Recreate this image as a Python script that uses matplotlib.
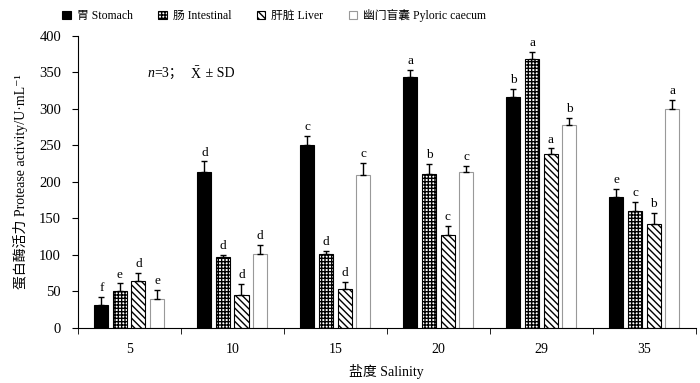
import numpy as np
import matplotlib
matplotlib.use("Agg")
import matplotlib.pyplot as plt
from matplotlib.font_manager import FontProperties

FONTS = ['Liberation Serif', 'Noto Sans CJK SC', 'DejaVu Serif']
plt.rcParams['font.family'] = FONTS
plt.rcParams['hatch.linewidth'] = 1.0
plt.rcParams['mathtext.fontset'] = 'custom'
plt.rcParams['mathtext.rm'] = 'Liberation Serif'
plt.rcParams['mathtext.it'] = 'Liberation Serif:italic'

# data
salinity = ['5', '10', '15', '20', '29', '35']
tissues = ['胃 Stomach', '肠 Intestinal', '肝脏 Liver', '幽门盲囊 Pyloric caecum']
stomach = [32, 213, 251, 344, 317, 180]
intestinal = [51, 97, 101, 211, 369, 160]
liver = [64, 45, 53, 127, 238, 143]
pyloric = [40, 101, 209, 213, 278, 300]
stomach_sd = [10, 15, 12, 10, 11, 10]
intestinal_sd = [10, 3, 4, 14, 9, 13]
liver_sd = [11, 15, 10, 13, 8, 15]
pyloric_sd = [12, 13, 17, 9, 10, 12]
stomach_sig = ['f', 'd', 'c', 'a', 'b', 'e']
intestinal_sig = ['e', 'd', 'd', 'b', 'a', 'c']
liver_sig = ['d', 'd', 'd', 'c', 'a', 'b']
pyloric_sig = ['e', 'd', 'c', 'c', 'b', 'a']

series = [
    (stomach, stomach_sd, stomach_sig, dict(color='black', edgecolor='black')),
    (intestinal, intestinal_sd, intestinal_sig, dict(color='white', edgecolor='black', hatch='+++++')),
    (liver, liver_sd, liver_sig, dict(color='white', edgecolor='black', hatch='\\\\\\\\\\')),
    (pyloric, pyloric_sd, pyloric_sig, dict(color='white', edgecolor='#999999')),
]

fig = plt.figure(figsize=(7, 3.83), dpi=100)
ax = fig.add_axes([0.111, 0.144, 0.883, 0.762])

x = np.arange(len(salinity))
step = 0.18
width = 0.136
for i, (vals, sd, sig, style) in enumerate(series):
    pos = x + (i - 1.5) * step
    ax.bar(pos, vals, width, label=tissues[i], linewidth=0.8, zorder=2, **style)
    ax.errorbar(pos, vals, yerr=[np.zeros(len(sd)), sd], fmt='none',
                ecolor='black', elinewidth=1.0, capsize=2.5, capthick=1.0, zorder=3)
    for p, v, e, s in zip(pos, vals, sd, sig):
        ax.annotate(s, (p, v + e), xytext=(0, 2), textcoords='offset points',
                    ha='center', va='bottom', fontsize=9.5)

ax.set_xlim(-0.5, len(salinity) - 0.5)
ax.set_ylim(0, 400)
ax.set_yticks(np.arange(0, 401, 50))
ax.set_xticks(x)
ax.set_xticklabels(salinity)
ax.tick_params(axis='x', length=0, pad=11, labelsize=10)
ax.set_xticks(np.arange(-0.5, len(salinity)), minor=True)
ax.tick_params(axis='x', which='minor', length=4, direction='out')
ax.tick_params(axis='y', length=4, direction='out', labelsize=10.5, pad=8)
ax.spines['top'].set_visible(False)
ax.spines['right'].set_visible(False)

ax.set_xlabel('盐度 Salinity', fontsize=10, labelpad=6)
ax.set_ylabel('蛋白酶活力 Protease activity/U·mL⁻¹', fontsize=10, labelpad=8)

# n=3; X-bar ± SD, built from pieces so the CJK semicolon and the bar both render
t = ax.text(0.113, 0.87, 'n', style='italic', transform=ax.transAxes, fontsize=10, va='center')
t = ax.annotate('=3；', xy=(1, 0.5), xycoords=t, va='center', fontsize=10)
t = ax.annotate(r'$\bar{\mathrm{X}}$', xy=(1, 0.5), xycoords=t, xytext=(5, 0),
                textcoords='offset points', va='center', fontsize=10)
ax.annotate(' ± SD', xy=(1, 0.5), xycoords=t, va='center', fontsize=10)

fig.legend(loc='upper center', bbox_to_anchor=(0.392, 1.005), ncol=4, frameon=False,
           handlelength=0.7, handleheight=0.7, handletextpad=0.5, columnspacing=2.2,
           prop=FontProperties(family=FONTS, size=8.5))

fig.savefig('out.png', dpi=100)
